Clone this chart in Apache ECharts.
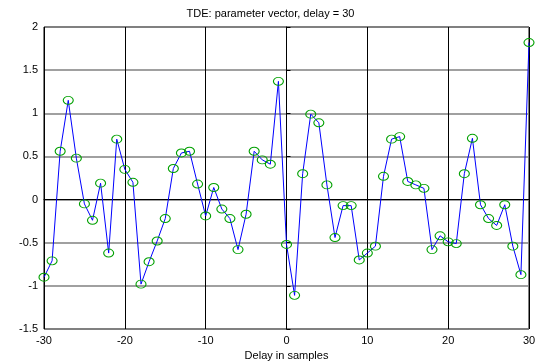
<!DOCTYPE html>
<html><head><meta charset="utf-8">
<script src="https://cdn.jsdelivr.net/npm/echarts@6/dist/echarts.min.js"></script>
<style>html,body{margin:0;padding:0;background:#fff}#c{width:541px;height:361px}</style>
</head><body><div id="c"></div>
<script>
const delays = [];
for (let d = -30; d <= 30; d++) delays.push(d);
const values = [-0.90,-0.71,0.56,1.15,0.48,-0.05,-0.24,0.19,-0.62,0.70,
  0.35,0.20,-0.98,-0.72,-0.48,-0.22,0.36,0.54,0.56,0.18,
  -0.19,0.14,-0.11,-0.22,-0.58,-0.17,0.56,0.46,0.41,1.37,
  -0.52,-1.11,0.30,0.99,0.89,0.17,-0.44,-0.07,-0.07,-0.70,
  -0.62,-0.54,0.27,0.70,0.73,0.21,0.17,0.13,-0.58,-0.42,
  -0.49,-0.51,0.30,0.71,-0.06,-0.22,-0.30,-0.06,-0.54,-0.87,1.82];
const titleText = 'TDE: parameter vector, delay = 30';
const xName = 'Delay in samples';

const font = 'Liberation Sans, Arial, sans-serif';
const chart = echarts.init(document.getElementById('c'), null, {renderer:'canvas'});
chart.setOption({
  animation:false,
  backgroundColor:'#fff',
  title:{text:titleText,left:'center',top:3,textStyle:{fontFamily:font,fontSize:11,fontWeight:'normal',color:'#000'}},
  grid:{left:44,right:12,top:27,bottom:32,show:true,borderColor:'#000',borderWidth:1,containLabel:false,outerBoundsMode:'none'},
  xAxis:{type:'value',min:-30,max:30,interval:10,name:xName,nameLocation:'middle',nameGap:18,
    nameTextStyle:{fontFamily:font,fontSize:11,color:'#000'},
    axisLine:{show:true,lineStyle:{color:'#000'}},
    axisTick:{show:true,inside:true,length:4,lineStyle:{color:'#000'}},
    axisLabel:{fontFamily:font,fontSize:11,color:'#000',margin:6},
    splitLine:{show:true,lineStyle:{color:'#000',width:1}}},
  yAxis:{type:'value',min:-1.5,max:2,interval:0.5,
    axisLine:{show:true,lineStyle:{color:'#000'}},
    axisTick:{show:true,inside:true,length:4,lineStyle:{color:'#000'}},
    axisLabel:{fontFamily:font,fontSize:11,color:'#000',margin:6},
    splitLine:{show:true,lineStyle:{color:'#808080',width:1.5}}},
  series:[{type:'line',data:delays.map((d,i)=>[d,values[i]]),
    lineStyle:{color:'#0000ff',width:1},
    symbol:'circle',symbolSize:[10,8],
    itemStyle:{color:'rgba(0,0,0,0)',borderColor:'#00a000',borderWidth:1},
    z:3}]
});
</script></body></html>
